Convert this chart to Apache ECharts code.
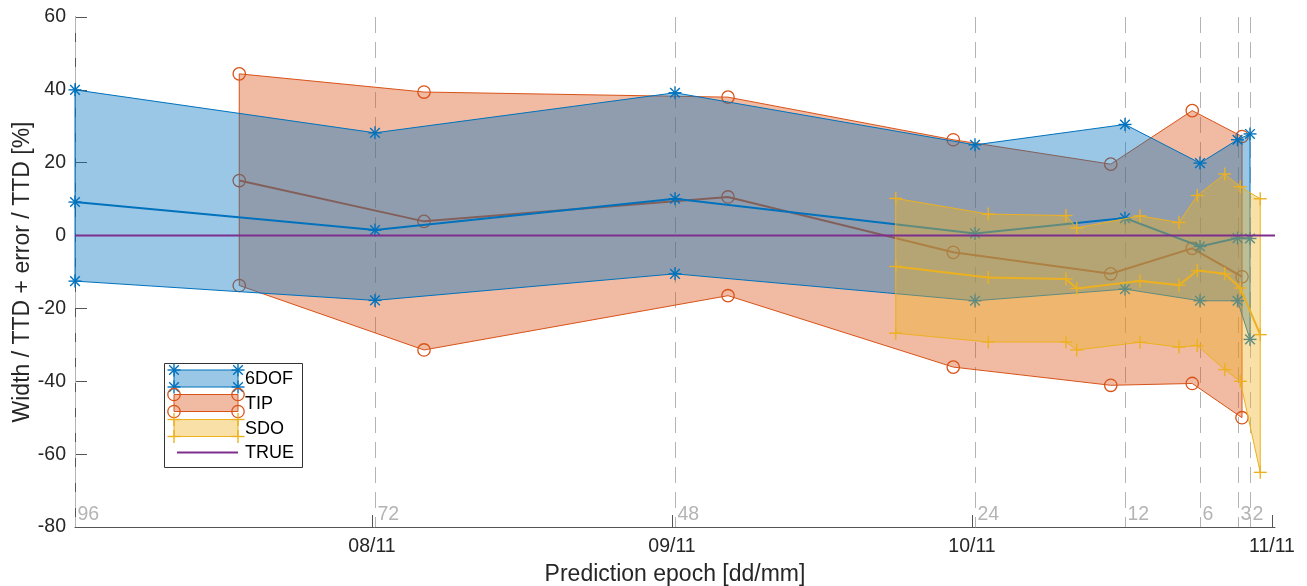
<!DOCTYPE html>
<html><head><meta charset="utf-8">
<script src="https://cdn.jsdelivr.net/npm/echarts@6/dist/echarts.min.js"></script>
<style>html,body{margin:0;padding:0;background:#fff}#c{width:1307px;height:586px}</style>
</head><body><div id="c"></div>
<script>
// x values are hours before re-entry (TTD); the axis runs from 96 h down to 0 h
const dofTTG   = [96, 72, 48, 24, 12, 6, 3, 2];
const dofUpper = [40.0, 28.2, 39.2, 24.9, 30.5, 19.9, 26.3, 27.9];
const dofMid   = [9.2, 1.5, 10.1, 0.6, 4.8, -3.0, -0.7, -0.8];
const dofLower = [-12.5, -17.8, -10.5, -17.9, -14.7, -17.9, -17.9, -28.5];

const tipTTG   = [82.86, 68.08, 43.76, 25.74, 13.14, 6.62, 2.64];
const tipUpper = [44.4, 39.4, 38.0, 26.3, 19.6, 34.3, 27.2];
const tipMid   = [15.1, 3.9, 10.6, -4.6, -10.5, -3.5, -11.3];
const tipLower = [-13.7, -31.4, -16.5, -36.1, -41.1, -40.6, -50.0];

const sdoTTG   = [30.34, 22.94, 16.72, 15.86, 10.8, 7.68, 6.22, 4.02, 2.78, 1.18];
const sdoUpper = [10.2, 5.9, 5.5, 2.1, 5.4, 3.6, 11.0, 16.9, 13.4, 10.1];
const sdoMid   = [-8.5, -11.5, -11.9, -14.5, -12.5, -13.6, -9.6, -10.5, -14.4, -27.2];
const sdoLower = [-26.8, -29.2, -29.2, -31.4, -29.3, -30.6, -30.2, -36.8, -40.0, -65.0];

const trueX = [96, 0];
const trueY = [0, 0];

const refLines   = [96, 72, 48, 24, 12, 6, 3, 2];
const dateTicks  = [72.24, 48.24, 24.24, 0.24];
const dateLabels = ['08/11', '09/11', '10/11', '11/11'];

const C6 = '#0072BD', CT = '#D95319', CS = '#EDB120', CP = '#7E2F8E';
const FONT = '"Liberation Sans", Arial, sans-serif';

function rgba(hex, a) {
  const n = parseInt(hex.slice(1), 16);
  return `rgba(${(n >> 16) & 255},${(n >> 8) & 255},${n & 255},${a})`;
}
function marker(type, p, color) {
  if (type === 'circle') {
    return [{type: 'circle', shape: {cx: p[0], cy: p[1], r: 6.2}, style: {stroke: color, fill: 'none', lineWidth: 1.3}}];
  }
  const h = 6.5;
  const segs = [[-h, 0, h, 0], [0, -h, 0, h]];
  if (type === 'star') { const d = h * 0.74; segs.push([-d, -d, d, d], [-d, d, d, -d]); }
  return segs.map(s => ({type: 'line', shape: {x1: p[0] + s[0], y1: p[1] + s[1], x2: p[0] + s[2], y2: p[1] + s[3]},
    style: {stroke: color, lineWidth: 1.4}}));
}
function bandSeries(name, ttg, upper, mid, lower, color, mtype) {
  return {
    type: 'custom', name, coordinateSystem: 'cartesian2d', data: [[0, 0]], silent: true,
    renderItem: (params, api) => {
      const up = ttg.map((t, i) => api.coord([t, upper[i]]));
      const lo = ttg.map((t, i) => api.coord([t, lower[i]]));
      const md = ttg.map((t, i) => api.coord([t, mid[i]]));
      const poly = up.concat(lo.slice().reverse());
      const children = [{type: 'polygon', shape: {points: poly},
        style: {fill: rgba(color, 0.4), stroke: color, lineWidth: 1}}];
      poly.forEach(p => children.push(...marker(mtype, p, color)));
      children.push({type: 'polyline', shape: {points: md}, style: {stroke: color, lineWidth: 2, fill: 'none'}});
      md.forEach(p => children.push(...marker(mtype, p, color)));
      return {type: 'group', children};
    }
  };
}

const chart = echarts.init(document.getElementById('c'), null, {renderer: 'canvas'});

// legend (drawn as graphics)
const LX = 174, LW = 64, LH = 17;
const legendItems = [];
legendItems.push({type: 'rect', shape: {x: 164.5, y: 363.5, width: 138, height: 104},
  style: {fill: '#fff', stroke: '#333', lineWidth: 1}, z: 100});
function legendText(y, label) {
  legendItems.push({type: 'text', x: 245, y: y,
    style: {text: label, fill: '#000', fontSize: 18, fontFamily: FONT,
      verticalAlign: 'middle', align: 'left', textVerticalAlign: 'middle', textAlign: 'left'}, z: 103});
}
function legendBand(y, color, mtype, label) {
  legendItems.push({type: 'rect', shape: {x: LX, y: y, width: LW, height: LH},
    style: {fill: rgba(color, 0.4), stroke: color, lineWidth: 1}, z: 101});
  [[LX, y], [LX + LW, y], [LX, y + LH], [LX + LW, y + LH]].forEach(p => {
    marker(mtype, p, color).forEach(m => { m.z = 102; legendItems.push(m); });
  });
  legendText(y + LH / 2 + 1, label);
}
legendBand(370, C6, 'star', '6DOF');
legendBand(394.5, CT, 'circle', 'TIP');
legendBand(419.5, CS, 'plus', 'SDO');
legendItems.push({type: 'line', shape: {x1: 177, y1: 452.5, x2: 238, y2: 452.5},
  style: {stroke: CP, lineWidth: 2}, z: 101});
legendText(453, 'TRUE');

const option = {
  animation: false,
  backgroundColor: '#fff',
  grid: {left: 75, right: 32, top: 17, bottom: 59, containLabel: false, outerBoundsMode: 'none'},
  xAxis: {
    type: 'value', inverse: true, min: 0, max: 96, position: 'bottom',
    axisLine: {show: true, onZero: false, lineStyle: {color: '#555', width: 1}},
    axisTick: {show: true, inside: true, length: 12, customValues: dateTicks, lineStyle: {color: '#555'}},
    axisLabel: {customValues: dateTicks, color: '#262626', fontSize: 19.5, fontFamily: FONT, margin: 10,
      formatter: v => { let b = 0; dateTicks.forEach((d, i) => { if (Math.abs(d - v) < Math.abs(dateTicks[b] - v)) b = i; }); return dateLabels[b]; }},
    splitLine: {show: false},
    name: 'Prediction epoch [dd/mm]', nameLocation: 'middle', nameGap: 36, nameMoveOverlap: false,
    nameTextStyle: {color: '#262626', fontSize: 23, fontFamily: FONT}
  },
  yAxis: {
    type: 'value', min: -80, max: 60, interval: 20, position: 'left',
    axisLine: {show: true, onZero: false, lineStyle: {color: '#555', width: 1}},
    axisTick: {show: true, inside: true, length: 12, lineStyle: {color: '#555'}},
    axisLabel: {color: '#262626', fontSize: 19.5, fontFamily: FONT, margin: 9},
    splitLine: {show: false},
    name: 'Width / TTD + error / TTD [%]', nameLocation: 'middle', nameGap: 41, nameMoveOverlap: false,
    nameTextStyle: {color: '#262626', fontSize: 23, fontFamily: FONT}
  },
  graphic: legendItems,
  series: [
    {
      type: 'custom', name: 'ref', coordinateSystem: 'cartesian2d', silent: true,
      data: refLines.map(v => [v, 0]),
      renderItem: (params, api) => {
        const v = api.value(0);
        const top = api.coord([v, 60]);
        const bot = api.coord([v, -80]);
        const x = Math.round(top[0]) + 0.5;
        return {type: 'group', children: [
          {type: 'line', shape: {x1: x, y1: top[1], x2: x, y2: bot[1]},
            style: {stroke: '#b4b4b4', lineWidth: 1, lineDash: [16, 9]}},
          {type: 'text', x: x + 2, y: bot[1] - 2,
            style: {text: String(v), fill: '#b4b4b4', fontSize: 19.5, fontFamily: FONT,
              align: 'left', verticalAlign: 'bottom', textAlign: 'left', textVerticalAlign: 'bottom'}}
        ]};
      }
    },
    bandSeries('TIP', tipTTG, tipUpper, tipMid, tipLower, CT, 'circle'),
    bandSeries('6DOF', dofTTG, dofUpper, dofMid, dofLower, C6, 'star'),
    bandSeries('SDO', sdoTTG, sdoUpper, sdoMid, sdoLower, CS, 'plus'),
    {
      type: 'line', name: 'TRUE', data: trueX.map((x, i) => [x, trueY[i]]),
      symbol: 'none', silent: true, lineStyle: {color: CP, width: 2}
    }
  ]
};
chart.setOption(option);
</script>
</body></html>
